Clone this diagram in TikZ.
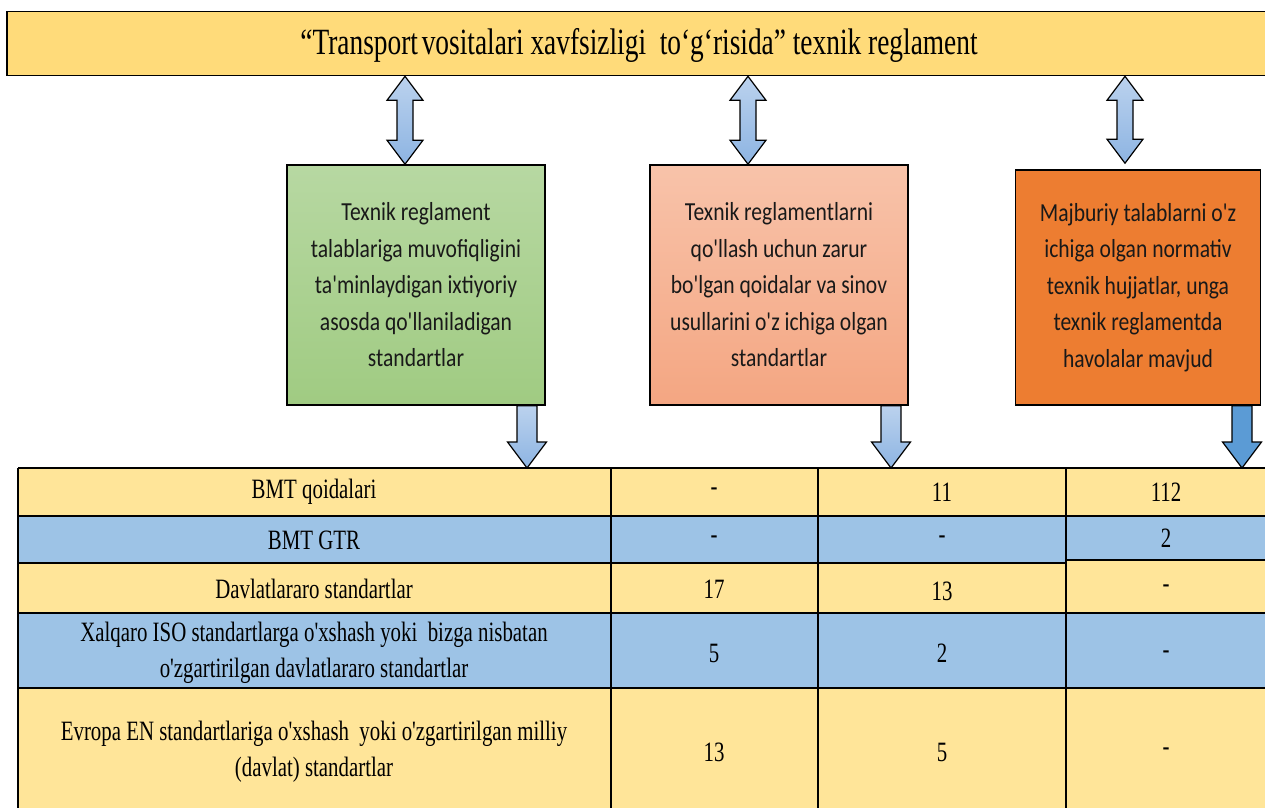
\documentclass[tikz,border=0pt]{standalone}
\usepackage{fontspec}
\setmainfont{Liberation Serif}
\newfontfamily\titlefont[Ligatures=TeXOff,FakeStretch=0.74]{Liberation Serif}
\newfontfamily\tabfont[Ligatures=TeXOff,FakeStretch=0.745]{Liberation Serif}
\newfontfamily\boxfont[Ligatures=TeXOff,FakeStretch=0.83]{Carlito}
\usetikzlibrary{calc}
\definecolor{barY}{RGB}{255,219,122}
\definecolor{tabY}{RGB}{255,229,153}
\definecolor{tabB}{RGB}{157,195,230}
\definecolor{grT}{RGB}{183,216,162}
\definecolor{grB}{RGB}{160,203,130}
\definecolor{saT}{RGB}{248,195,170}
\definecolor{saB}{RGB}{244,166,130}
\definecolor{orF}{RGB}{237,125,49}
\definecolor{arT}{RGB}{187,210,238}
\definecolor{arB}{RGB}{141,180,226}
\definecolor{arD}{RGB}{91,155,213}
\tikzset{
  titlebox/.style={draw=black, line width=1.6pt, fill=barY, minimum width=1268pt, minimum height=64pt, inner sep=0pt},
  titletext/.style={font=\titlefont\fontsize{37}{40}\selectfont, inner sep=0pt, anchor=base},
  infobox/.style={draw=black, line width=1.6pt, align=center, inner sep=0pt, text=black!90,
    font=\boxfont\fontsize{26}{36.5}\selectfont},
  arrowsty/.style={draw=black, line width=1.2pt, line join=miter, top color=arT, bottom color=arB},
  darkarrow/.style={draw=black, line width=1.2pt, line join=miter, fill=arD},
  cell/.style={align=center, inner sep=0pt, font=\tabfont\fontsize{28}{36}\selectfont},
  grid/.style={draw=black, line width=1.5pt},
  gridthick/.style={draw=black, line width=2.4pt}
}
% double block arrow between tip #2 (top) and tip #3 (bottom)
\newcommand\dblarrow[3][]{%
  \path[arrowsty,#1] (#2) -- ($(#2)+(18,24)$) -- ($(#2)+(8,24)$) -- ($(#3)+(8,-24)$) -- ($(#3)+(18,-24)$)
    -- (#3) -- ($(#3)+(-18,-24)$) -- ($(#3)+(-8,-24)$) -- ($(#2)+(-8,24)$) -- ($(#2)+(-18,24)$) -- cycle;}
% single down block arrow from #2 (top of shaft) to #3 (tip)
\newcommand\dnarrow[3][]{%
  \path[#1] ($(#2)+(-10,0)$) -- ($(#2)+(10,0)$) -- ($(#3)+(10,-26)$) -- ($(#3)+(19.5,-26)$) -- (#3)
    -- ($(#3)+(-19.5,-26)$) -- ($(#3)+(-10,-26)$) -- cycle;}
\begin{document}
\begin{tikzpicture}[x=1pt,y=-1pt]
\useasboundingbox (0,0) rectangle (1265,808);

% title bar (runs past the right edge)
\node[titlebox] (title) at (641,43.5) {};
\node[titletext] (ttext) at (639,55) {“Transport\hspace{0.1em}vositalari xavfsizligi \ to‘g‘risida” texnik reglament};

% three boxes
\node[infobox, top color=grT, bottom color=grB, minimum width=258pt, minimum height=240pt] (g) at (416,285)
  {Texnik reglament\\talablariga muvofiqligini\\ta'minlaydigan ixtiyoriy\\asosda qo'llaniladigan\\standartlar};
\node[infobox, top color=saT, bottom color=saB, minimum width=258pt, minimum height=240pt] (s) at (779,285)
  {Texnik reglamentlarni\\qo'llash uchun zarur\\bo'lgan qoidalar va sinov\\usullarini o'z ichiga olgan\\standartlar};
\node[infobox, fill=orF, minimum width=245pt, minimum height=235pt] (o) at (1138,287.5)
  {Majburiy talablarni o'z\\ichiga olgan normativ\\texnik hujjatlar, unga\\texnik reglamentda\\havolalar mavjud};

% double arrows
\coordinate (d1b) at ($(g.north)+(-11,0)$);
\coordinate (d1t) at (d1b |- title.south);
\coordinate (d2b) at ($(s.north)+(-31,0)$);
\coordinate (d2t) at (d2b |- title.south);
\coordinate (d3b) at ($(o.north)+(-13,-6)$);
\coordinate (d3t) at (d3b |- title.south);
\dblarrow{d1t}{d1b}
\dblarrow{d2t}{d2b}
\dblarrow{d3t}{d3b}

% table
\coordinate (tabtop) at (18,468);
\fill[tabY] (18,468) rectangle (1265,516);
\fill[tabB] (18,516) rectangle (1066,563);
\fill[tabB] (1066,516) rectangle (1265,560);
\fill[tabY] (18,563) rectangle (1066,613);
\fill[tabY] (1066,560) rectangle (1265,613);
\fill[tabB] (18,613) rectangle (1265,688);
\fill[tabY] (18,688) rectangle (1265,808);

\draw[grid] (18,468) -- (1265,468);
\draw[grid] (18,516) -- (1265,516);
\draw[gridthick] (18,563) -- (1066,563);
\draw[grid] (1066,560) -- (1265,560);
\draw[grid] (18,613) -- (1265,613);
\draw[gridthick] (18,688) -- (1265,688);
\draw[grid] (18,468) -- (18,808);
\draw[grid] (611,468) -- (611,808);
\draw[grid] (818,468) -- (818,808);
\draw[grid] (1066,468) -- (1066,808);

% down arrows
\coordinate (u1) at (527,0);
\coordinate (u2) at (891,0);
\coordinate (u3) at (1242,0);
\coordinate (u1s) at (u1 |- g.south);
\coordinate (u1e) at (u1 |- tabtop);
\coordinate (u2s) at (u2 |- s.south);
\coordinate (u2e) at (u2 |- tabtop);
\coordinate (u3s) at (u3 |- o.south);
\coordinate (u3e) at (u3 |- tabtop);
\dnarrow[arrowsty]{u1s}{u1e}
\dnarrow[arrowsty]{u2s}{u2e}
\dnarrow[darkarrow]{u3s}{u3e}

% table cells
\node[cell] (c11) at (314,492) {BMT qoidalari};
\node[cell] (c12) at (714,492) {-};
\node[cell] (c13) at (942,492) {11};
\node[cell] (c14) at (1166,492) {112};
\node[cell] (c21) at (314,540) {BMT GTR};
\node[cell] (c22) at (714,540) {-};
\node[cell] (c23) at (942,540) {-};
\node[cell] (c24) at (1166,538) {2};
\node[cell] (c31) at (314,589) {Davlatlararo standartlar};
\node[cell] (c32) at (714,589) {17};
\node[cell] (c33) at (942,591) {13};
\node[cell] (c34) at (1166,589) {-};
\node[cell] (c41) at (314,653) {Xalqaro ISO standartlarga o'xshash yoki \ bizga nisbatan\\o'zgartirilgan davlatlararo standartlar};
\node[cell] (c42) at (714,653) {5};
\node[cell] (c43) at (942,653) {2};
\node[cell] (c44) at (1166,655) {-};
\node[cell] (c51) at (314,752) {Evropa EN standartlariga o'xshash \ yoki o'zgartirilgan milliy\\(davlat) standartlar};
\node[cell] (c52) at (714,752) {13};
\node[cell] (c53) at (942,752) {5};
\node[cell] (c54) at (1166,752) {-};
\end{tikzpicture}
\end{document}
